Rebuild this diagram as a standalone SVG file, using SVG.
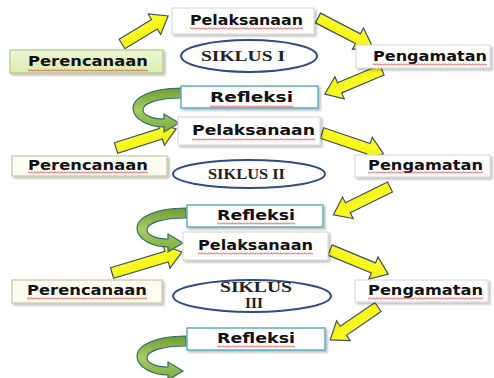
<svg xmlns="http://www.w3.org/2000/svg" width="494" height="378" viewBox="0 0 494 378">
<defs>
<filter id="sh" x="-10%" y="-20%" width="130%" height="160%">
<feDropShadow dx="2" dy="2" stdDeviation="1.2" flood-color="#000" flood-opacity="0.25"/>
</filter>
<linearGradient id="yg" x1="0" y1="0" x2="0" y2="1">
<stop offset="0" stop-color="#ffff40"/><stop offset="1" stop-color="#f0f000"/>
</linearGradient>
<linearGradient id="gg" x1="0" y1="0" x2="0" y2="1">
<stop offset="0" stop-color="#6f9c34"/><stop offset="0.5" stop-color="#a6cd62"/><stop offset="1" stop-color="#7aa83c"/>
</linearGradient>
<linearGradient id="pg" x1="0" y1="0" x2="0" y2="1">
<stop offset="0" stop-color="#eef7d6"/><stop offset="1" stop-color="#d9ecae"/>
</linearGradient>
<pattern id="wv" width="3" height="3" patternUnits="userSpaceOnUse">
<path d="M0,2.5 L1.5,0.7 L3,2.5" fill="none" stroke="#d83030" stroke-width="0.8"/>
</pattern>
</defs>
<style>
.box{fill:#fff;stroke:#d4d4d4;stroke-width:1;filter:url(#sh)}
.per1{fill:url(#pg);stroke:#b5c585;stroke-width:1.2;filter:url(#sh)}
.per{fill:#fcfcf3;stroke:#c9c6a4;stroke-width:1.2;filter:url(#sh)}
.ref{fill:#fff;stroke:#5eaec0;stroke-width:1.5;filter:url(#sh)}
.ell{fill:#fff;stroke:#2f4d80;stroke-width:2}
.t{font-family:"DejaVu Sans",Verdana,sans-serif;font-weight:bold;font-size:14px;fill:#111}
.s{font-family:"Liberation Serif","Times New Roman",serif;font-weight:bold;font-size:14px;fill:#222}
.u{fill:url(#wv)}
.ya{fill:url(#yg);stroke:#3e4f5c;stroke-width:1.2;stroke-linejoin:miter}
.ga{fill:url(#gg);stroke:#2f6b74;stroke-width:1.2}
</style>

<g id="connectors">
<path class="ya" transform="translate(122,44) rotate(-31.3)" d="M0,-5.5 L38,-5.5 L38,-12 L54,0 L38,12 L38,5.5 L0,5.5 Z"/>
<path class="ya" transform="translate(318,18) rotate(27.4)" d="M0,-5.5 L45,-5.5 L45,-12 L61,0 L45,12 L45,5.5 L0,5.5 Z"/>
<path class="ya" transform="translate(382,70) rotate(157.2)" d="M0,-5.5 L46,-5.5 L46,-12 L62,0 L46,12 L46,5.5 L0,5.5 Z"/>
<path class="ya" transform="translate(116,148) rotate(-17.6)" d="M0,-5.5 L47,-5.5 L47,-12 L63,0 L47,12 L47,5.5 L0,5.5 Z"/>
<path class="ya" transform="translate(322,133) rotate(18.7)" d="M0,-5.5 L49,-5.5 L49,-12 L65,0 L49,12 L49,5.5 L0,5.5 Z"/>
<path class="ya" transform="translate(390,187) rotate(153.8)" d="M0,-5.5 L47,-5.5 L47,-12 L63,0 L47,12 L47,5.5 L0,5.5 Z"/>
<path class="ya" transform="translate(112,273) rotate(-16.7)" d="M0,-5.5 L57,-5.5 L57,-12 L73,0 L57,12 L57,5.5 L0,5.5 Z"/>
<path class="ya" transform="translate(330,250) rotate(22.5)" d="M0,-5.5 L47,-5.5 L47,-12 L63,0 L47,12 L47,5.5 L0,5.5 Z"/>
<path class="ya" transform="translate(378,307) rotate(145.5)" d="M0,-5.5 L42,-5.5 L42,-12 L58,0 L42,12 L42,5.5 L0,5.5 Z"/>
<path class="ga" d="M182,88 C150,88 133,98 133,108 C133,120 150,127 164,127 L164,132 L179,123 L164,114 L164,119 C152,119 143,115 143,110 C143,103 158,98 182,98 Z"/>
<path class="ga" transform="translate(4,120)" d="M182,88 C150,88 133,98 133,108 C133,120 150,127 164,127 L164,132 L179,123 L164,114 L164,119 C152,119 143,115 143,110 C143,103 158,98 182,98 Z"/>
<path class="ga" transform="translate(4,248)" d="M182,88 C150,88 133,98 133,108 C133,120 150,127 164,127 L164,132 L179,123 L164,114 L164,119 C152,119 143,115 143,110 C143,103 158,98 182,98 Z"/>
</g>

<g id="pelaksanaan1"><rect class="box" x="172" y="8" width="142" height="26"/><text class="t" x="190" y="25" textLength="113" lengthAdjust="spacingAndGlyphs">Pelaksanaan</text><rect class="u" x="190" y="27" width="113" height="3"/></g>
<g id="perencanaan1"><rect class="per1" x="10" y="50" width="153" height="23"/><text class="t" x="28" y="66" textLength="120" lengthAdjust="spacingAndGlyphs">Perencanaan</text><rect class="u" x="28" y="69" width="120" height="3"/></g>
<g id="siklus1"><ellipse class="ell" cx="249" cy="56" rx="68" ry="16"/><text class="s" x="201" y="61" textLength="84" lengthAdjust="spacingAndGlyphs">SIKLUS I</text></g>
<g id="pengamatan1"><rect class="box" x="356" y="45" width="134" height="23"/><text class="t" x="373" y="61" textLength="114" lengthAdjust="spacingAndGlyphs">Pengamatan</text><rect class="u" x="373" y="63" width="114" height="3"/></g>
<g id="refleksi1"><rect class="ref" x="181" y="86" width="137" height="22"/><text class="t" x="210" y="102" textLength="83" lengthAdjust="spacingAndGlyphs">Refleksi</text><rect class="u" x="210" y="105" width="83" height="3"/></g>

<g id="pelaksanaan2"><rect class="box" x="178" y="117" width="142" height="28"/><text class="t" x="192" y="135" textLength="123" lengthAdjust="spacingAndGlyphs">Pelaksanaan</text><rect class="u" x="192" y="138" width="123" height="3"/></g>
<g id="perencanaan2"><rect class="per" x="12" y="156" width="155" height="20"/><text class="t" x="28" y="170" textLength="120" lengthAdjust="spacingAndGlyphs">Perencanaan</text><rect class="u" x="28" y="171" width="120" height="3"/></g>
<g id="siklus2"><ellipse class="ell" cx="249" cy="174" rx="76" ry="14"/><text class="s" x="208" y="179" textLength="77" lengthAdjust="spacingAndGlyphs">SIKLUS II</text></g>
<g id="pengamatan2"><rect class="box" x="355" y="155" width="135" height="22"/><text class="t" x="368" y="170" textLength="115" lengthAdjust="spacingAndGlyphs">Pengamatan</text><rect class="u" x="368" y="171" width="115" height="3"/></g>
<g id="refleksi2"><rect class="ref" x="187" y="205" width="136" height="22"/><text class="t" x="217" y="220" textLength="78" lengthAdjust="spacingAndGlyphs">Refleksi</text><rect class="u" x="217" y="222" width="78" height="3"/></g>

<g id="pelaksanaan3"><rect class="box" x="183" y="232" width="145" height="28"/><text class="t" x="198" y="250" textLength="115" lengthAdjust="spacingAndGlyphs">Pelaksanaan</text><rect class="u" x="198" y="252" width="115" height="3"/></g>
<g id="perencanaan3"><rect class="per" x="12" y="280" width="150" height="23"/><text class="t" x="27" y="295" textLength="120" lengthAdjust="spacingAndGlyphs">Perencanaan</text><rect class="u" x="27" y="297" width="120" height="3"/></g>
<g id="siklus3"><ellipse class="ell" cx="252" cy="296" rx="79" ry="16"/><text class="s" x="220" y="292" textLength="72" lengthAdjust="spacingAndGlyphs">SIKLUS</text><text class="s" x="245" y="308" textLength="18" lengthAdjust="spacingAndGlyphs">III</text></g>
<g id="pengamatan3"><rect class="box" x="355" y="280" width="133" height="22"/><text class="t" x="368" y="295" textLength="115" lengthAdjust="spacingAndGlyphs">Pengamatan</text><rect class="u" x="368" y="297" width="115" height="3"/></g>
<g id="refleksi3"><rect class="ref" x="187" y="328" width="138" height="22"/><text class="t" x="217" y="343" textLength="78" lengthAdjust="spacingAndGlyphs">Refleksi</text><rect class="u" x="217" y="345" width="78" height="3"/></g>
</svg>
